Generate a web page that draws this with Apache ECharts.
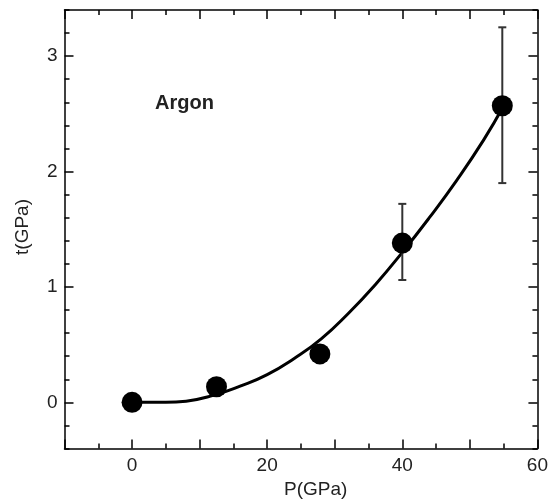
<!DOCTYPE html>
<html>
<head>
<meta charset="utf-8">
<script src="https://cdn.jsdelivr.net/npm/echarts@6/dist/echarts.min.js"></script>
<style>
  html, body { margin: 0; padding: 0; background: #fff; }
  #chart { width: 551px; height: 503px; }
</style>
</head>
<body>
<div id="chart"></div>
<script>
// measured points
var pressure = [0, 12.5, 27.8, 40, 54.8];
var thickness = [0, 0.135, 0.42, 1.38, 2.57];

// error bars
var errP = [40, 54.8];
var errLow = [1.06, 1.90];
var errHigh = [1.72, 3.25];

// fitted curve
var fitP = [0, 5, 8, 12, 16, 20, 24, 28, 32, 36, 40, 44, 48, 52, 55];
var fitT = [0, 0, 0.01, 0.06, 0.14, 0.24, 0.38, 0.55, 0.77, 1.02, 1.30, 1.60, 1.92, 2.27, 2.57];

var yLabels = [0, 1, 2, 3];

var font = 'Liberation Sans, Arial, sans-serif';
var chart = echarts.init(document.getElementById('chart'));

var pts = pressure.map(function (p, i) { return [p, thickness[i]]; });
var fit = fitP.map(function (p, i) { return [p, fitT[i]]; });
var errs = errP.map(function (p, i) { return [p, errLow[i], errHigh[i]]; });

function xAxisDef(pos, labels) {
  return {
    type: 'value', position: pos, min: -10, max: 60, interval: 10,
    axisLine: { show: true, onZero: false, lineStyle: { color: '#000', width: 1.5 } },
    axisTick: { show: true, inside: true, length: 9, lineStyle: { color: '#000', width: 1.5 } },
    minorTick: { show: true, splitNumber: 2, length: 5, lineStyle: { color: '#000', width: 1.5 } },
    axisLabel: {
      show: labels, color: '#222', fontSize: 19, fontFamily: font, margin: 8,
      formatter: function (v) { return v % 20 === 0 ? String(v) : ''; }
    },
    splitLine: { show: false }
  };
}

function yMinor(pos) {
  return {
    type: 'value', position: pos, min: -0.4, max: 3.4, interval: 0.2,
    axisLine: { show: true, onZero: false, lineStyle: { color: '#000', width: 1.5 } },
    axisTick: { show: true, inside: true, length: 5, lineStyle: { color: '#000', width: 1.5 } },
    axisLabel: { show: false },
    splitLine: { show: false }
  };
}

function yMajor(pos, labels) {
  return {
    type: 'value', position: pos, min: -0.4, max: 3.4,
    axisLine: { show: false, onZero: false },
    axisTick: { show: true, inside: true, length: 9, customValues: yLabels,
      lineStyle: { color: '#000', width: 1.5 } },
    axisLabel: { show: labels, customValues: yLabels, color: '#222', fontSize: 19,
      fontFamily: font, margin: 7 },
    splitLine: { show: false }
  };
}

var option = {
  animation: false,
  grid: { left: 64.5, right: 9, top: 10, bottom: 54.5 },
  xAxis: [xAxisDef('bottom', true), xAxisDef('top', false)],
  yAxis: [yMinor('left'), yMajor('left', true), yMinor('right'), yMajor('right', false)],
  graphic: [
    {
      type: 'text', left: 155, top: 93,
      style: { text: 'Argon', fill: '#222', font: 'bold 20px ' + font }
    },
    {
      type: 'text', left: 284, top: 480,
      style: { text: 'P(GPa)', fill: '#222', font: '19px ' + font }
    },
    {
      type: 'text', x: 23, y: 227, rotation: Math.PI / 2,
      style: { text: 't(GPa)', fill: '#222', font: '19px ' + font,
        align: 'center', verticalAlign: 'middle' }
    }
  ],
  series: [
    {
      type: 'line', data: fit, smooth: true, symbol: 'none', z: 2,
      lineStyle: { color: '#000', width: 3 }
    },
    {
      type: 'custom', data: errs, z: 3,
      renderItem: function (params, api) {
        var lo = api.coord([api.value(0), api.value(1)]);
        var hi = api.coord([api.value(0), api.value(2)]);
        var cap = 4;
        var style = { stroke: '#333', lineWidth: 2 };
        return {
          type: 'group',
          children: [
            { type: 'line', shape: { x1: lo[0], y1: lo[1], x2: hi[0], y2: hi[1] }, style: style },
            { type: 'line', shape: { x1: lo[0] - cap, y1: lo[1], x2: lo[0] + cap, y2: lo[1] }, style: style },
            { type: 'line', shape: { x1: hi[0] - cap, y1: hi[1], x2: hi[0] + cap, y2: hi[1] }, style: style }
          ]
        };
      }
    },
    {
      type: 'scatter', data: pts, symbolSize: 21, z: 4,
      itemStyle: { color: '#000', opacity: 1 }
    }
  ]
};

chart.setOption(option);
</script>
</body>
</html>
